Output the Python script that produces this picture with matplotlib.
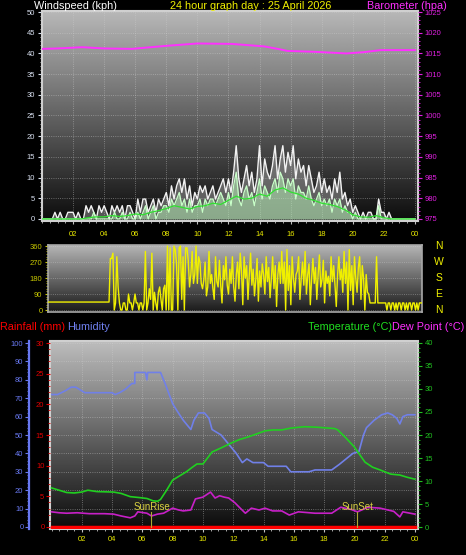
import numpy as np
import matplotlib
matplotlib.use('Agg')
import matplotlib.pyplot as plt
from matplotlib.ticker import MultipleLocator, FixedLocator
from matplotlib.patches import Rectangle

plt.rcParams['font.family'] = ['Liberation Sans', 'DejaVu Sans']

# wind, 10 minute samples from 00:00 to 24:00 (kph)
wind_gust = [
    0, 0, 0, 0, 0, 1.6,
    0, 1.6, 0, 0, 1.6, 1.6,
    1.6, 0, 1.6, 0, 0, 3.2,
    1.6, 3.2, 1.6, 0, 3.2, 1.6,
    3.2, 1.6, 0, 3.2, 1.6, 3.2,
    1.6, 3.2, 0, 3.2, 3.2, 1.6,
    0, 4.8, 1.6, 4.8, 4.8, 1.6,
    3.2, 4.8, 1.6, 4.8, 3.2, 4.8,
    6.4, 3.2, 8.0, 4.8, 8.0, 9.7,
    6.4, 9.7, 4.8, 8.0, 3.2, 6.4,
    4.8, 8.0, 6.4, 8.0, 4.8, 6.4,
    8.0, 4.8, 6.4, 8.0, 9.7, 6.4,
    9.7, 6.4, 11.3, 17.7, 9.7, 6.4,
    9.7, 12.9, 8.0, 11.3, 6.4, 9.7,
    17.7, 8.0, 14.5, 11.3, 9.7, 12.9,
    17.7, 9.7, 14.5, 17.7, 11.3, 16.1,
    12.9, 17.7, 9.7, 14.5, 11.3, 12.9,
    8.0, 12.9, 9.7, 6.4, 8.0, 11.3,
    6.4, 9.7, 6.4, 8.0, 4.8, 9.7,
    6.4, 11.3, 4.8, 6.4, 3.2, 4.8,
    1.6, 3.2, 1.6, 0, 1.6, 0,
    1.6, 1.6, 0, 0, 4.8, 1.6,
    1.6, 0, 1.6, 0, 0, 0,
    0, 0, 0, 0, 0, 0,
    0]
wind_speed = [
    0, 0, 0, 0, 0, 0,
    0, 0, 0, 0, 0, 0,
    0, 0, 0, 0, 0, 0,
    0, 0, 1.6, 0, 0, 0,
    0, 0, 0, 0, 1.6, 0,
    0, 1.6, 0, 0, 1.6, 0,
    0, 1.6, 0, 1.6, 3.2, 0,
    1.6, 3.2, 0, 1.6, 1.6, 3.2,
    3.2, 1.6, 4.8, 3.2, 4.8, 6.4,
    3.2, 4.8, 1.6, 4.8, 1.6, 3.2,
    3.2, 4.8, 1.6, 4.8, 3.2, 4.8,
    4.8, 3.2, 4.8, 6.4, 4.8, 3.2,
    6.4, 3.2, 8.0, 11.3, 4.8, 3.2,
    6.4, 8.0, 4.8, 6.4, 3.2, 6.4,
    9.7, 4.8, 8.0, 6.4, 4.8, 8.0,
    9.7, 6.4, 11.3, 9.7, 6.4, 9.7,
    8.0, 9.7, 4.8, 8.0, 6.4, 6.4,
    4.8, 8.0, 4.8, 3.2, 4.8, 6.4,
    3.2, 4.8, 3.2, 4.8, 1.6, 4.8,
    3.2, 4.8, 1.6, 3.2, 1.6, 1.6,
    0, 1.6, 0, 0, 0, 0,
    0, 0, 0, 0, 3.2, 0,
    0, 0, 0, 0, 0, 0,
    0, 0, 0, 0, 0, 0,
    0]
# half hourly average wind
wind_avg = [0, 0, 0, 0, 0, 0,
            0.3, 0.5, 0.5, 0.8, 0.6, 0.8, 1.2, 1.0, 1.6, 2.0, 2.5, 3.2,
            2.8, 2.4, 3.0, 3.2, 3.8, 3.5, 4.5, 5.5, 4.8, 5.0, 6.0, 5.5,
            7.0, 7.5, 6.5, 6.0, 5.0, 4.5, 3.8, 3.5, 3.0, 2.2, 1.0, 0.5,
            0.4, 0.8, 0.3, 0, 0, 0, 0]
# wind direction, 5 minute samples (degrees)
wind_dir = [
    45, 45, 45, 45, 45, 45, 45, 45, 45, 45, 45, 45,
    45, 45, 45, 45, 45, 45, 45, 45, 45, 45, 45, 45,
    45, 45, 45, 45, 45, 45, 45, 45, 45, 45, 45, 45,
    45, 45, 45, 45, 45, 45, 45, 45, 45, 45, 45, 45,
    290, 290, 320, 0, 40, 300, 130, 40, 0, 0, 40, 40,
    0, 0, 90, 40, 40, 0, 40, 90, 40, 40, 0, 40,
    40, 0, 40, 330, 0, 40, 120, 60, 320, 0, 100, 40,
    0, 100, 130, 60, 0, 120, 140, 0, 360, 0, 350, 0,
    0, 360, 340, 260, 0, 350, 360, 60, 300, 0, 350, 350,
    280, 130, 200, 330, 150, 200, 360, 150, 300, 270, 150, 120,
    170, 270, 80, 130, 330, 150, 200, 120, 60, 300, 160, 130,
    280, 140, 40, 250, 170, 300, 140, 90, 230, 150, 300, 130,
    50, 200, 270, 120, 320, 220, 30, 300, 180, 250, 60, 200,
    320, 140, 230, 80, 170, 290, 50, 220, 130, 260, 200, 90,
    300, 160, 240, 70, 180, 300, 120, 250, 20, 200, 270, 150,
    330, 150, 270, 0, 340, 110, 250, 30, 300, 180, 100, 200,
    220, 300, 60, 180, 270, 140, 330, 90, 200, 260, 30, 180,
    290, 150, 240, 60, 200, 310, 130, 170, 280, 40, 220, 150,
    190, 80, 300, 160, 250, 140, 20, 200, 300, 170, 230, 100,
    330, 150, 270, 0, 340, 110, 250, 30, 300, 180, 100, 240,
    300, 60, 250, 180, 0, 200, 100, 90, 40, 40, 40, 40,
    40, 300, 40, 40, 40, 40, 40, 40, 40, 0, 40, 40,
    0, 40, 40, 0, 40, 0, 40, 40, 0, 40, 40, 0,
    40, 0, 40, 40, 0, 40, 40, 0, 40, 0, 40, 40,
    40]

baro_hours = [0, 1.0, 2.6, 4.0, 5.8, 7.9, 10.0, 12.2, 14.3, 15.3, 15.8, 17.5, 19.6, 20.7, 21.8, 24]
baro = [1016.1, 1016.2, 1016.5, 1016.2, 1016.1, 1016.8, 1017.4, 1017.3, 1016.7, 1016.0,
        1015.6, 1015.4, 1015.0, 1015.3, 1015.8, 1015.8]

hum_hours = [0, 0.4, 0.9, 1.3, 1.6, 2.2, 3, 4, 4.2, 4.5, 4.9, 5.3, 5.5, 5.5, 6.2, 6.3, 6.35, 7.2,
             7.5, 8.0, 8.3, 8.7, 9.0, 9.2, 9.4, 9.7, 10.1, 10.4, 10.6, 11.2, 11.7, 12.2, 12.6,
             12.9, 13.3, 14.0, 14.3, 15.5, 15.8, 17.0, 17.4, 18.5, 19.0, 19.6, 19.9, 20.3, 20.6,
             20.8, 21.3, 21.8, 22.2, 22.5, 22.8, 23.0, 23.2, 23.5, 24]
humidity = [72, 72, 74, 76, 76, 73, 73, 73, 72, 73, 75, 78, 78, 84, 84, 80, 84, 84,
            78, 67, 63, 58, 55, 53, 58, 62, 62, 59, 53, 50, 45, 40, 35,
            37, 35, 35, 33, 33, 30, 30, 31, 31, 34, 38, 40, 41, 50,
            54, 58, 61, 62, 61, 59, 56, 60, 61, 61]

temp_hours = [0, 0.5, 1.0, 1.5, 2.0, 2.4, 3.0, 4.1, 4.6, 5.2, 5.8, 6.3, 6.7, 7.0, 7.2, 7.6, 8.0,
              8.5, 8.9, 9.3, 9.6, 10.0, 10.3, 10.6, 11.2, 11.9, 12.4, 13.0, 13.6, 14.1, 14.6,
              15.2, 15.8, 16.7, 17.5, 18.7, 18.9, 19.4, 20.0, 20.4, 20.7, 21.2, 21.7, 22.4,
              23.0, 23.5, 24]
temperature = [8.5, 8.0, 7.5, 7.4, 7.6, 8.0, 7.7, 7.6, 7.3, 6.6, 6.4, 6.2, 5.7, 5.6, 6.0, 8.0, 10.2,
               11.2, 12.0, 13.0, 13.7, 13.7, 15.0, 16.3, 17.2, 18.3, 19.0, 19.6, 20.3, 20.9, 21.1,
               21.1, 21.5, 21.8, 21.7, 21.4, 21.1, 19.5, 17.4, 15.5, 14.1, 13.0, 12.4, 11.5,
               11.3, 10.8, 10.4]

dew_hours = [0, 0.5, 1.0, 1.7, 2.5, 3.5, 4.1, 4.6, 5.2, 5.5, 5.7, 6.3, 6.6, 7.0, 7.4, 8.0, 8.4,
             8.7, 9.2, 9.5, 10.0, 10.5, 10.8, 11.1, 11.4, 11.7, 12.1, 12.4, 12.8, 13.2, 13.7,
             14.1, 14.6, 15.2, 15.7, 16.3, 17.4, 18.5, 19.1, 19.8, 20.2, 20.9, 21.7, 22.6,
             23.0, 23.2, 24]
dew_point = [3.3, 3.1, 3.0, 3.1, 2.9, 2.9, 2.8, 2.4, 2.0, 2.4, 3.3, 3.0, 2.4, 2.8, 3.0, 4.1, 3.7,
             3.5, 3.7, 6.1, 6.5, 7.6, 6.3, 6.8, 6.5, 6.3, 5.3, 4.3, 3.0, 4.1, 3.7,
             4.1, 3.5, 3.5, 2.6, 3.3, 3.0, 3.0, 4.3, 3.8, 3.3, 4.3, 4.1, 3.4,
             2.2, 3.3, 2.8]

rain_hours = [0, 24]
rainfall = [0, 0]

sunrise = 6.6
sunset = 20.2
hour_ticks = list(range(2, 25, 2))
hour_labels = ['%02d' % (h % 24) for h in hour_ticks]

W, H = 466, 555
fig = plt.figure(figsize=(W / 100, H / 100), dpi=100, facecolor='black')


def box(x0, y0, x1, y1):
    # pixel box (top-left origin) -> figure fraction
    return [x0 / W, 1 - y1 / H, (x1 - x0) / W, (y1 - y0) / H]


def gradient(ax, top, bottom):
    g = np.linspace(top, bottom, 256).reshape(-1, 1)
    ax.imshow(g, cmap='gray', vmin=0, vmax=1, aspect='auto', extent=[0, 1, 0, 1],
              transform=ax.transAxes, zorder=0, interpolation='bilinear')


def hide_spines(ax):
    for s in ax.spines.values():
        s.set_visible(False)


TICKFS = 5.5
YEL = '#e8e800'

# ---------------- wind speed / barometer ----------------
ax1 = fig.add_axes(box(42, 11, 418, 221))
ax1.set_facecolor('black')
gradient(ax1, 0.72, 0.05)
t10 = np.linspace(0, 24, len(wind_gust))
t30 = np.linspace(0, 24, len(wind_avg))
ax1.fill_between(t10, wind_gust, color='#d8d8d8', alpha=0.35, lw=0, zorder=2)
ax1.plot(t10, wind_gust, color='#f2f2f2', lw=1.0, zorder=3)
ax1.fill_between(t10, wind_speed, color='#b8f0b8', alpha=0.55, lw=0, zorder=4)
ax1.plot(t10, wind_speed, color='#c8ffc8', lw=0.9, zorder=4)
ax1.plot(t30, wind_avg, color='#30e030', lw=0.9, zorder=5)
ax1.set_xlim(0, 24.2)
ax1.set_ylim(-0.5, 50.25)
ax1.yaxis.set_major_locator(MultipleLocator(5))
ax1.yaxis.set_minor_locator(MultipleLocator(1))
ax1.xaxis.set_major_locator(FixedLocator(hour_ticks))
ax1.xaxis.set_minor_locator(MultipleLocator(0.5))
ax1.set_xticklabels(hour_labels)
ax1.tick_params(axis='y', colors='#d8e0f0', labelsize=TICKFS, length=3, pad=2)
ax1.tick_params(axis='y', which='minor', colors='#d8d8d8', length=1.5)
ax1.tick_params(axis='x', colors='#c0c0c0', labelcolor=YEL, labelsize=TICKFS, length=2, pad=5)
ax1.tick_params(axis='x', which='minor', colors='#c0c0c0', length=1.5)
ax1.grid(True, which='major', color='#d0d0d0', ls=':', lw=0.6, alpha=0.55)
ax1.set_axisbelow(True)
for s in ax1.spines.values():
    s.set_color('#d0d0d0')
    s.set_linewidth(1.5)

ax1b = ax1.twinx()
ax1b.plot(baro_hours, baro, color='#ff30ff', lw=1.4)
ax1b.set_ylim(974.5, 1025.25)
ax1b.yaxis.set_major_locator(MultipleLocator(5))
ax1b.yaxis.set_minor_locator(MultipleLocator(1))
ax1b.tick_params(axis='y', colors='#e020e0', labelsize=TICKFS, length=3, pad=2)
ax1b.tick_params(axis='y', which='minor', colors='#e020e0', length=1.5)
hide_spines(ax1b)

# ---------------- wind direction ----------------
ax2 = fig.add_axes(box(48, 245, 422, 312))
gradient(ax2, 0.72, 0.1)
t5 = np.linspace(0, 24, len(wind_dir))
ax2.plot(t5, wind_dir, color='#f0f000', lw=1.0, zorder=3)
ax2.set_xlim(0, 24)
ax2.set_ylim(-11, 366)
ax2.set_xticks([])
ax2.yaxis.set_major_locator(MultipleLocator(90))
ax2.yaxis.set_minor_locator(MultipleLocator(15))
ax2.tick_params(axis='y', colors='#c8c800', labelsize=TICKFS, length=2, pad=2)
ax2.tick_params(axis='y', which='minor', colors='#c8c800', length=1.5)
ax2.grid(True, axis='y', color='#d0d0d0', ls=':', lw=0.6, alpha=0.5)
ax2.set_axisbelow(True)
for s in ax2.spines.values():
    s.set_color('#a8a8a8')
    s.set_linewidth(1.2)
for deg, letter in zip([360, 270, 180, 90, 0], ['N', 'W', 'S', 'E', 'N']):
    ax2.text(1.045, deg, letter, transform=ax2.get_yaxis_transform(), color='#f0f000',
             fontsize=7.5, ha='center', va='center')

# ---------------- rain / humidity / temperature ----------------
ax3 = fig.add_axes(box(50, 341, 418, 529))
gradient(ax3, 0.74, 0.04)
ax3.plot(hum_hours, humidity, color='#7080e8', lw=1.2, zorder=3)
ax3.set_xlim(-0.1, 24.2)
ax3.set_ylim(-1.1, 101.1)
ax3.yaxis.set_major_locator(MultipleLocator(10))
ax3.yaxis.set_minor_locator(MultipleLocator(2))
ax3.xaxis.set_major_locator(FixedLocator(hour_ticks))
ax3.xaxis.set_minor_locator(MultipleLocator(0.5))
ax3.set_xticklabels(hour_labels)
ax3.tick_params(axis='y', colors='#6878f0', labelsize=TICKFS, length=3, pad=1)
ax3.tick_params(axis='y', which='minor', colors='#6878f0', length=1.5)
ax3.tick_params(axis='x', colors='#c0c0c0', labelcolor=YEL, labelsize=TICKFS, length=2, pad=3)
ax3.tick_params(axis='x', which='minor', colors='#c0c0c0', length=1.5)
ax3.grid(True, which='major', color='#d0d0d0', ls=':', lw=0.6, alpha=0.55)
ax3.set_axisbelow(True)
hide_spines(ax3)
ax3.spines['left'].set_visible(True)
ax3.spines['left'].set_position(('axes', -21 / 368))
ax3.spines['left'].set_color('#6878f0')
ax3.spines['left'].set_linewidth(1.6)
ax3.add_patch(Rectangle((0, 0), 1, 1, transform=ax3.transAxes, fill=False,
                        ec='#d0d0d0', lw=1.5, zorder=6, clip_on=False))

axr = ax3.twinx()
axr.plot(rain_hours, rainfall, color='#ff0000', lw=2.5, zorder=5)
axr.set_ylim(-0.33, 30.33)
axr.yaxis.set_ticks_position('left')
axr.yaxis.set_major_locator(MultipleLocator(5))
axr.yaxis.set_minor_locator(MultipleLocator(1))
axr.tick_params(axis='y', colors='#e00000', labelsize=TICKFS, length=3, pad=1)
axr.tick_params(axis='y', which='minor', colors='#e00000', length=1.5)
hide_spines(axr)

axt = ax3.twinx()
axt.plot(temp_hours, temperature, color='#20d020', lw=1.2)
axt.plot(dew_hours, dew_point, color='#c820c8', lw=1.2)
axt.set_ylim(-0.43, 40.43)
axt.yaxis.set_major_locator(MultipleLocator(5))
axt.yaxis.set_minor_locator(MultipleLocator(1))
axt.tick_params(axis='y', colors='#20c020', labelsize=TICKFS, length=3, pad=2)
axt.tick_params(axis='y', which='minor', colors='#20c020', length=1.5)
hide_spines(axt)
for hr, name in [(sunrise, 'SunRise'), (sunset, 'SunSet')]:
    axt.plot([hr, hr], [0, 3.2], color='#b0a830', lw=0.8)
    axt.text(hr, 4.3, name, color='#d8d040', fontsize=7, ha='center', va='center')

# ---------------- titles ----------------
def ftext(x, y, s, color, ha='left', size=7.8):
    fig.text(x / W, 1 - y / H, s, color=color, ha=ha, va='center', fontsize=size)


ftext(34, 6, 'Windspeed (kph)', '#ffffff')
ftext(251, 6, '24 hour graph day : 25 April 2026', '#f0f000', ha='center')
ftext(447, 6, 'Barometer (hpa)', '#ff30ff', ha='right')
ftext(0, 327, 'Rainfall (mm)', '#ff0000')
ftext(67, 327, 'Humidity', '#7080f0')
ftext(392, 327, 'Temperature (°C)', '#20e020', ha='right')
ftext(392, 327, 'Dew Point (°C)', '#ff30ff')

fig.savefig('out.png', dpi=100, facecolor='black')
